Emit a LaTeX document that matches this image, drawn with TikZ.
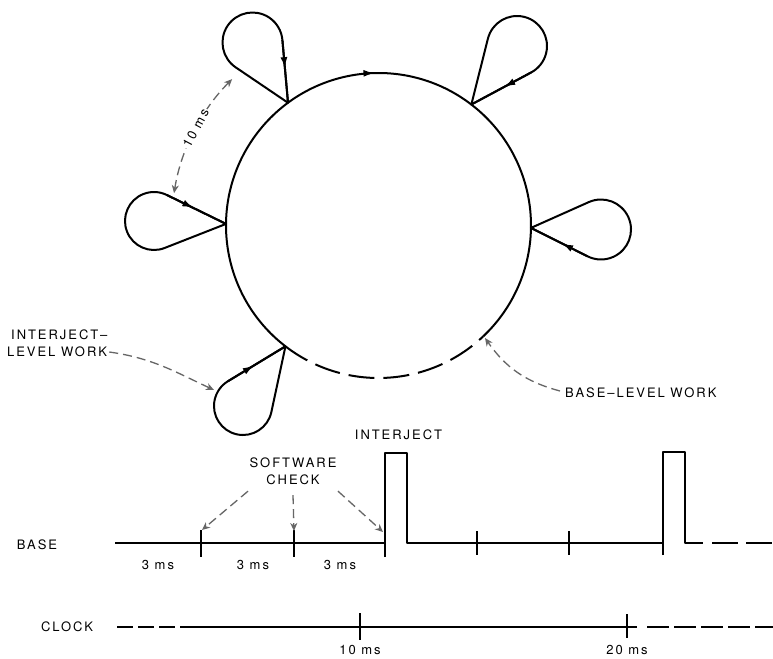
\documentclass[tikz,border=0pt]{standalone}
\usepackage{fontspec}
\setmainfont{TeX Gyre Heros}[LetterSpace=15]
\usetikzlibrary{calc,arrows.meta,decorations.markings}

\newcommand\interloop[3]{%
  \draw[mainline] let \p1=($(#1)-(#2)$), \n1={atan2(\y1,\x1)}, \n2={veclen(\x1,\y1)}, \n3={acos(#3/\n2)} in
    (#1) -- ($(#2)+(\n1-\n3:#3pt)$) arc[start angle=\n1-\n3, end angle=\n1+\n3-360, radius=#3pt] -- cycle;
  \draw[mainline, midarrow=0.45] let \p1=($(#1)-(#2)$), \n1={atan2(\y1,\x1)}, \n2={veclen(\x1,\y1)}, \n3={acos(#3/\n2)} in
    ($(#2)+(\n1+\n3:#3pt)$) -- (#1);
}

\begin{document}
\begin{tikzpicture}[x=1pt,y=1pt,
  mainline/.style={line width=2pt, line join=round},
  tickline/.style={line width=1.3pt},
  annot/.style={draw=black!60, line width=1.3pt, dash pattern=on 9pt off 5pt,
     -{Stealth[length=8pt,width=7pt,inset=2.5pt]}},
  lbl/.style={font=\fontsize{13}{15}\selectfont, inner sep=0pt},
  midarrow/.style={postaction={decorate}, decoration={markings,
     mark=at position #1 with {\arrow{Latex[length=11pt,width=7pt]}}}},
]
\fill[white] (0,0) rectangle (773,-658);
\useasboundingbox (0,0) rectangle (773,-658);

% main circle
\coordinate (O) at (378.5,-225.5);
\draw[mainline, midarrow=0.505] ($(O)+(232.4:152.5pt)$) arc[start angle=232.4, end angle=-46.6, radius=152.5pt];
\draw[mainline, dash pattern=on 26pt off 9pt] ($(O)+(-127.6:152.5pt)$) arc[start angle=-127.6, end angle=-46.6, radius=152.5pt];

% junctions and loop centres
\coordinate (J1) at ($(O)+(126.4:152.5pt)$);
\coordinate (J2) at ($(O)+(52.5:152.5pt)$);
\coordinate (J3) at ($(O)+(179.4:152.5pt)$);
\coordinate (J4) at ($(O)+(-0.9:152.5pt)$);
\coordinate (J5) at ($(O)+(-127.6:152.5pt)$);
\coordinate (C1) at (252.5,-42.5);
\coordinate (C2) at (517,-46);
\coordinate (C3) at (154,-221);
\coordinate (C4) at (601,-229.5);
\coordinate (C5) at (243,-406);

\interloop{J1}{C1}{30}
\interloop{J2}{C2}{30}
\interloop{J3}{C3}{29}
\interloop{J4}{C4}{30}
\interloop{J5}{C5}{29}

% 10 ms annotation
\coordinate (tA) at ($(O)+(135:207pt)$);
\draw[annot, {Stealth[length=8pt,width=7pt,inset=2.5pt]}-{Stealth[length=8pt,width=7pt,inset=2.5pt]}]
  (tA) arc[start angle=135, end angle=171, radius=207pt];
\node[lbl, fill=white, inner sep=1.5pt, rotate=62] (tenms) at ($(O)+(152:207pt)$) {10 ms};

% interject-level work
\node[lbl, anchor=west] (ilw1) at (11,-335) {INTERJECT–};
\node[lbl, anchor=west] (ilw2) at (7,-352) {LEVEL WORK};
\coordinate (ilwtip) at (214,-390);
\draw[annot] ($(ilw2.east)+(2,0)$) to[out=-8, in=155] (ilwtip);

% base-level work
\node[lbl, anchor=west] (blw) at (565,-393) {BASE–LEVEL WORK};
\coordinate (blwtip) at (485,-338);
\draw[annot] ($(blw.west)+(-5,2)$) to[out=165, in=-55] (blwtip);

% BASE waveform
\node[lbl] (baselbl) at (37,-545) {BASE};
\draw[mainline] (115,-543) -- (385,-543);
\draw[mainline] (385,-557) -- (385,-453) -- (407,-453) -- (407,-543) -- (663,-543);
\draw[mainline] (663,-555) -- (663,-452) -- (685,-452) -- (685,-543) -- (703,-543);
\draw[mainline, dash pattern=on 26pt off 8pt] (712,-543) -- (773,-543);
\draw[tickline] (201,-530) -- (201,-557);
\draw[tickline] (294,-530) -- (294,-557);
\draw[tickline] (477,-531) -- (477,-555);
\draw[tickline] (569,-531) -- (569,-555);

\node[lbl] (inj) at (398.5,-435) {INTERJECT};
\node[lbl] (sw) at (293,-463) {SOFTWARE};
\node[lbl] (chk) at (293,-480) {CHECK};
\coordinate (s1) at (202,-530);
\coordinate (s2) at (294,-531);
\coordinate (s3) at (383,-532);
\draw[annot] ($(chk.south)+(-45,-6)$) -- (s1);
\draw[annot] ($(chk.south)+(0,-10)$) -- (s2);
\draw[annot] ($(chk.south)+(45,-6)$) -- (s3);

\node[lbl] (t1) at (158,-565) {3 ms};
\node[lbl] (t2) at (253,-565) {3 ms};
\node[lbl] (t3) at (340,-565) {3 ms};

% CLOCK
\node[lbl] (clk) at (67,-627) {CLOCK};
\draw[mainline, dash pattern=on 16pt off 5pt] (117,-627) -- (180,-627);
\draw[mainline] (180,-627) -- (637,-627);
\draw[mainline, dash pattern=on 22pt off 5pt] (647,-627) -- (773,-627);
\draw[tickline] (360,-613) -- (360,-640);
\draw[tickline] (627,-614) -- (627,-638);
\node[lbl] (c10) at (360,-650) {10 ms};
\node[lbl] (c20) at (627,-650) {20 ms};
\end{tikzpicture}
\end{document}
